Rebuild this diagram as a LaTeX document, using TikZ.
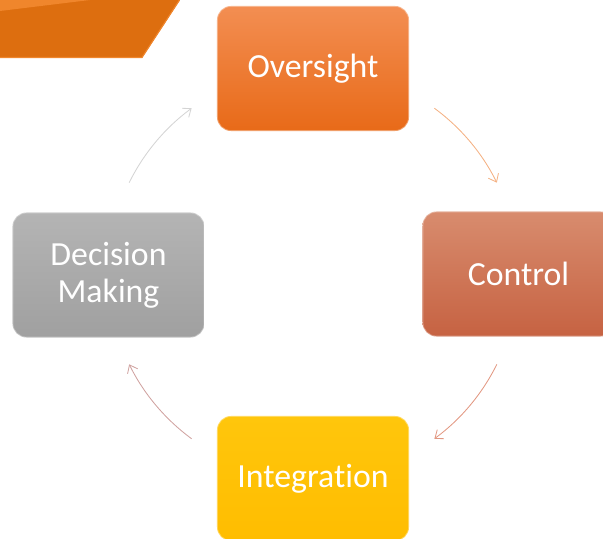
\documentclass[tikz,border=0pt]{standalone}
\usepackage{fontspec}
\setmainfont{Carlito}[Ligatures={NoCommon}]
\usetikzlibrary{arrows.meta}

\definecolor{bannerdark}{RGB}{221,110,15}
\definecolor{bannerlight}{RGB}{240,134,44}
\definecolor{overtop}{RGB}{243,142,82}
\definecolor{overbot}{RGB}{232,106,24}
\definecolor{ctrltop}{RGB}{216,140,110}
\definecolor{ctrlbot}{RGB}{198,98,66}
\definecolor{dectop}{RGB}{180,180,180}
\definecolor{decbot}{RGB}{160,160,160}
\definecolor{integtop}{RGB}{255,198,12}
\definecolor{integbot}{RGB}{255,189,0}
\definecolor{flowa}{RGB}{244,177,131}
\definecolor{flowb}{RGB}{226,152,130}
\definecolor{flowc}{RGB}{208,162,160}
\definecolor{flowd}{RGB}{212,212,212}

\tikzset{
  stage/.style={rounded corners=0.35cm, minimum width=4.8cm, minimum height=3.125cm,
    text=white, align=center, font=\fontsize{24}{26.5}\selectfont,
    draw=white, draw opacity=0.35, line width=1.2pt},
  flow/.style={line width=0.6pt, -{Straight Barb[length=5pt, width=8pt]}}
}

\begin{document}
\begin{tikzpicture}[x=0.025cm, y=0.025cm]
  \clip (0, 0) rectangle (603, 538);
  \useasboundingbox (0, 0) rectangle (603, 538);

  % Banner
  \fill[bannerdark] (0, 538) -- (180, 538) -- (142, 480) -- (0, 480) -- cycle;
  \fill[bannerlight] (0, 538) -- (90, 538) -- (0, 527) -- cycle;
  \draw[bannerlight, line width=0.8pt] (0, 480.5) -- (142, 480.5) -- (179.5, 538);

  % Boxes
  \node[stage, top color=overtop, bottom color=overbot] (over) at (313, 469.5) {Oversight};
  \node[stage, top color=ctrltop, bottom color=ctrlbot] (ctrl) at (518.5, 264) {Control};
  \node[stage, top color=integtop, bottom color=integbot] (integ) at (313, 59.5) {Integration};
  \node[stage, top color=dectop, bottom color=decbot] (dec) at (108.5, 263) {Decision\\Making};

  % Cycle arrows
  \coordinate (mid) at (313, 264.5);
  \path (mid) ++(53.7:5.125cm) coordinate (overout);
  \path (mid) ++(-26.3:5.125cm) coordinate (ctrlout);
  \path (mid) ++(-126.3:5.125cm) coordinate (integout);
  \path (mid) ++(153.7:5.125cm) coordinate (decout);

  \draw[flow, flowa] (overout) arc[start angle=53.7, end angle=26.3, radius=5.125cm];
  \draw[flow, flowb] (ctrlout) arc[start angle=-26.3, end angle=-53.7, radius=5.125cm];
  \draw[flow, flowc] (integout) arc[start angle=-126.3, end angle=-153.7, radius=5.125cm];
  \draw[flow, flowd] (decout) arc[start angle=153.7, end angle=126.3, radius=5.125cm];
\end{tikzpicture}
\end{document}
